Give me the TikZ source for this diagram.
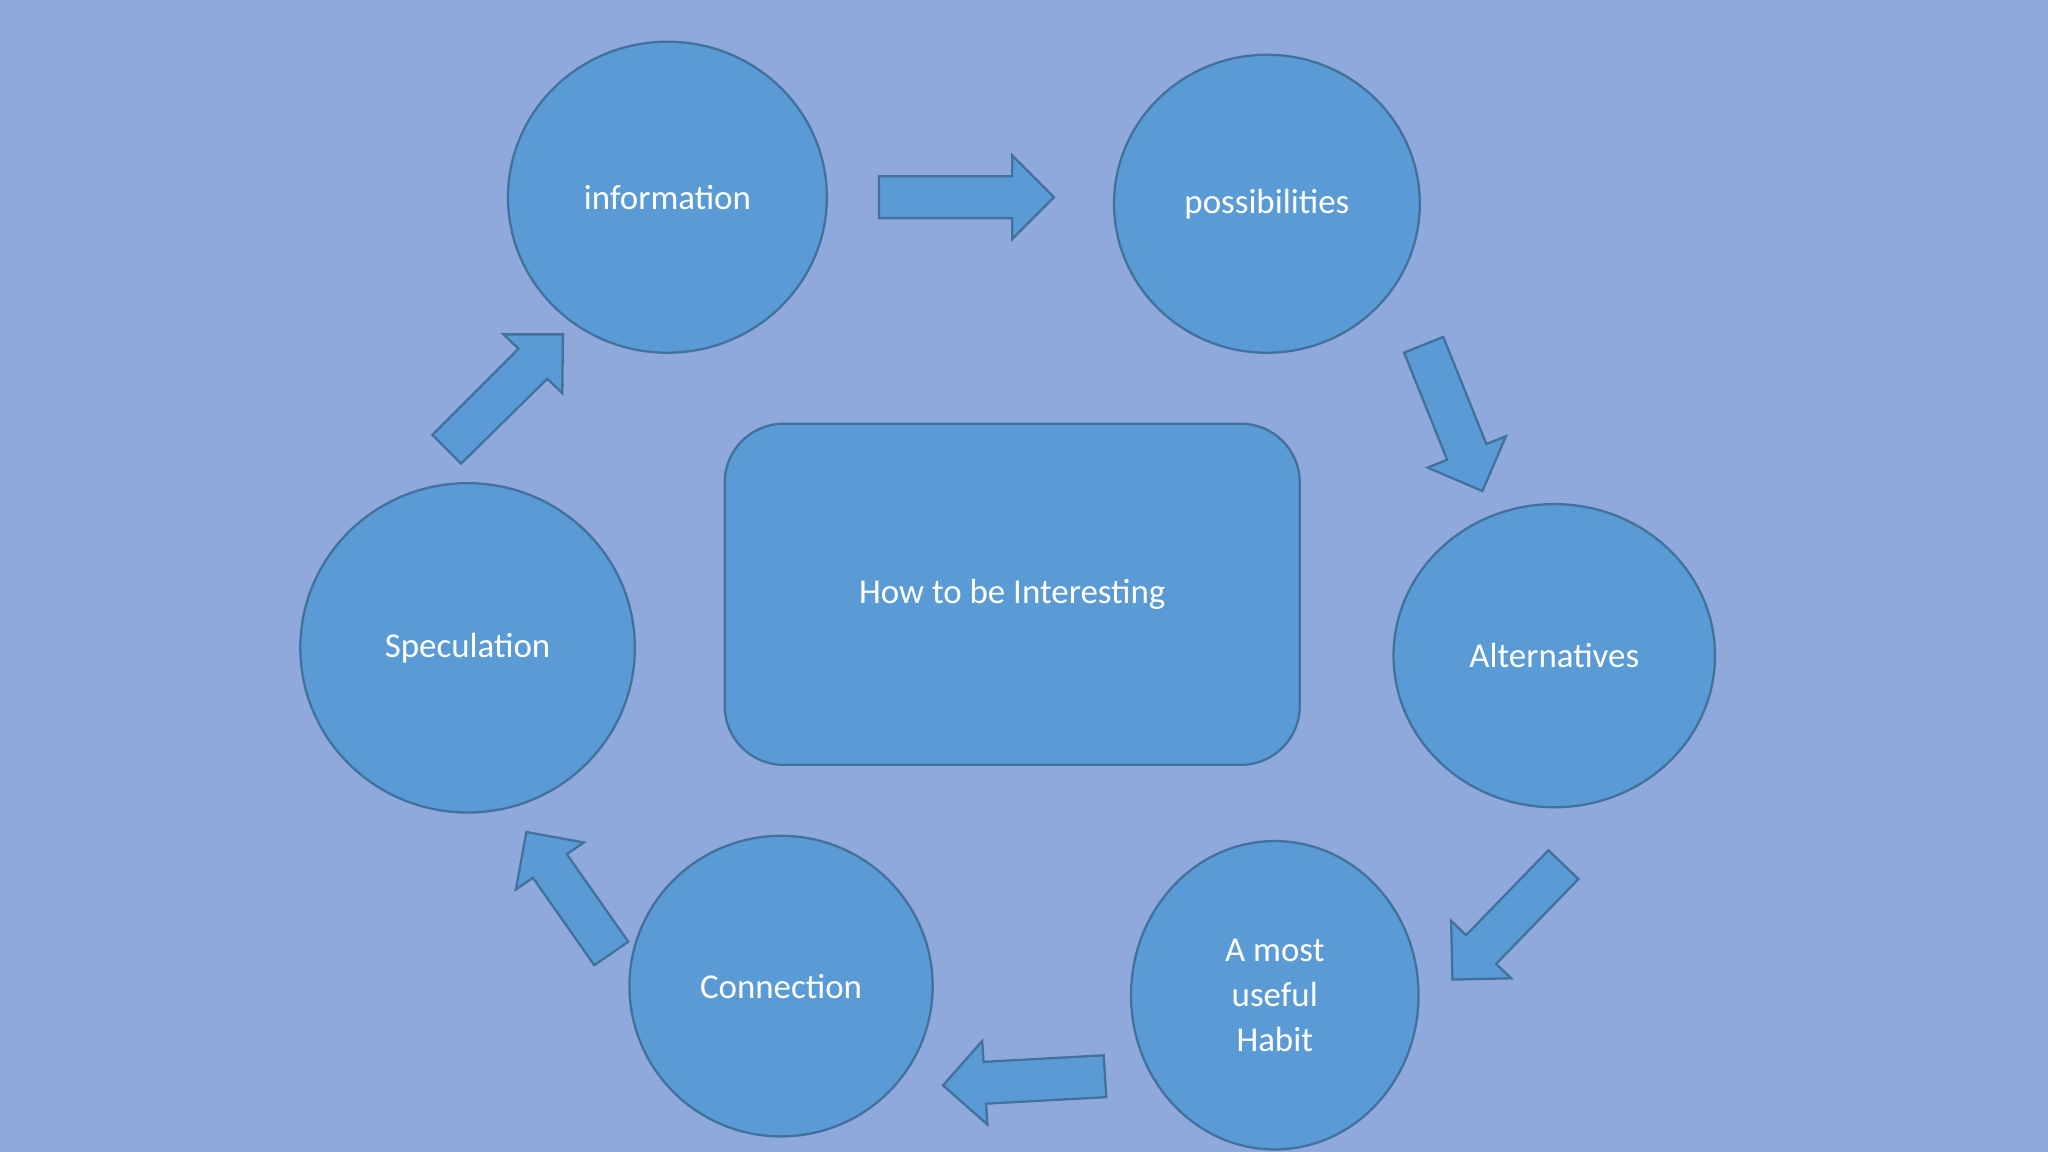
\documentclass[tikz,border=0pt]{standalone}
\usepackage{fontspec}
\setmainfont{Carlito}
\usetikzlibrary{shapes.geometric}
\definecolor{bg}{HTML}{8FA9DC}
\definecolor{fillc}{HTML}{5B9BD5}
\definecolor{edgec}{HTML}{41719C}
\begin{document}
\begin{tikzpicture}[x=0.01cm,y=-0.01cm,
  circ/.style={ellipse,draw=edgec,fill=fillc,line width=0.5pt,text=white,font=\fontsize{7.6}{9.8}\selectfont,align=center,inner sep=0pt},
  box/.style={rectangle,rounded corners=0.45cm,draw=edgec,fill=fillc,line width=0.5pt,text=white,font=\fontsize{7.6}{9.8}\selectfont,inner sep=0pt},
  barrow/.style={draw=edgec,fill=fillc,line width=0.5pt,line join=miter}]
\fill[bg] (0,0) rectangle (1568,882);
\useasboundingbox (0,0) rectangle (1568,882);
\node[circ,minimum width=2.44cm,minimum height=2.38cm] (info) at (511,151) {information};
\node[circ,minimum width=2.34cm,minimum height=2.28cm] (poss) at (970,156) {possibilities};
\node[circ,minimum width=2.46cm,minimum height=2.32cm] (alt) at (1190,502) {Alternatives};
\node[circ,minimum width=2.20cm,minimum height=2.36cm] (habit) at (976,762) {A most\\useful\\Habit};
\node[circ,minimum width=2.32cm,minimum height=2.30cm] (conn) at (598,755) {Connection};
\node[circ,minimum width=2.56cm,minimum height=2.52cm] (spec) at (358,496) {Speculation};
\node[box,minimum width=4.40cm,minimum height=2.61cm] (center) at (775,455) {How to be Interesting};
% block arrows
\draw[barrow] (673,135) -- (775,135) -- (775,119) -- (807,151) -- (775,183) -- (775,167) -- (673,167) -- cycle;
\draw[barrow] (1105,258) -- (1138,340) -- (1153,334) -- (1135,376) -- (1093,358) -- (1108,352) -- (1075,270) -- cycle;
\draw[barrow] (1208.5,673) -- (1145.5,738) -- (1157,749) -- (1112,750) -- (1111,705) -- (1122.5,716) -- (1185.5,651) -- cycle;
\draw[barrow] (847,840) -- (755,845) -- (756,861) -- (722,831) -- (752,797) -- (753,813) -- (845,808) -- cycle;
\draw[barrow] (481,721) -- (434,654) -- (447,645) -- (403,637) -- (395,681) -- (408,672) -- (455,739) -- cycle;
\draw[barrow] (353,355) -- (419,290) -- (430.5,301) -- (431,256) -- (385.5,256) -- (397,267) -- (331,333) -- cycle;
\end{tikzpicture}
\end{document}
